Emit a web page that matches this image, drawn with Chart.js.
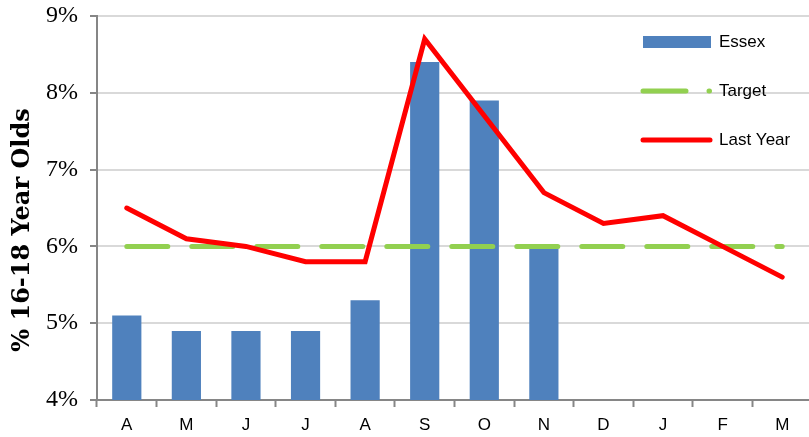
<!DOCTYPE html>
<html>
<head>
<meta charset="utf-8">
<script src="https://cdn.jsdelivr.net/npm/chart.js@4"></script>
<style>
  html, body { margin: 0; padding: 0; background: #fff; overflow: hidden; }
</style>
</head>
<body>
<canvas id="chart" width="812" height="437"></canvas>
<script>
const months = ["A", "M", "J", "J", "A", "S", "O", "N", "D", "J", "F", "M"];
const essex = [5.1, 4.9, 4.9, 4.9, 5.3, 8.4, 7.9, 6.0, null, null, null, null];
const target = [6, 6, 6, 6, 6, 6, 6, 6, 6, 6, 6, 6];
const lastYear = [6.5, 6.1, 6.0, 5.8, 5.8, 8.7, 7.7, 6.7, 6.3, 6.4, 6.0, 5.6];
const yTicks = [4, 5, 6, 7, 8, 9];

const AXIS = "#868686";

// legend + rotated axis title drawn by hand so they sit where the original has them
const extras = {
  id: "extras",
  afterDraw(chart) {
    const ctx = chart.ctx;
    const ds = chart.data.datasets;
    ctx.save();

    // axis title
    ctx.translate(23, 230);
    ctx.rotate(-Math.PI / 2);
    ctx.font = "bold 24px 'DejaVu Serif'";
    ctx.fillStyle = "#000";
    ctx.textAlign = "center";
    ctx.textBaseline = "middle";
    ctx.fillText("% 16-18 Year Olds", 0, 0);
    ctx.setTransform(1, 0, 0, 1, 0, 0);

    // legend
    ctx.font = "17px 'Liberation Sans'";
    ctx.textAlign = "left";
    ctx.textBaseline = "middle";

    ctx.fillStyle = ds[0].backgroundColor;
    ctx.fillRect(643, 36, 68, 12);
    ctx.fillStyle = "#000";
    ctx.fillText(ds[0].label, 719, 42);

    ctx.strokeStyle = ds[1].borderColor;
    ctx.lineWidth = 5;
    ctx.lineCap = "round";
    ctx.beginPath();
    ctx.moveTo(643, 91); ctx.lineTo(686, 91);
    ctx.moveTo(709, 91); ctx.lineTo(709.5, 91);
    ctx.stroke();
    ctx.fillText(ds[1].label, 719, 91);

    ctx.strokeStyle = ds[2].borderColor;
    ctx.beginPath();
    ctx.moveTo(643, 140); ctx.lineTo(710, 140);
    ctx.stroke();
    ctx.fillText(ds[2].label, 719, 140);

    ctx.restore();
  }
};

new Chart(document.getElementById("chart"), {
  data: {
    labels: months,
    datasets: [
      {
        type: "bar",
        label: "Essex",
        data: essex,
        backgroundColor: "#4F81BD",
        barPercentage: 0.49,
        categoryPercentage: 1,
        order: 3
      },
      {
        type: "line",
        label: "Target",
        data: target,
        borderColor: "#92D050",
        borderWidth: 5,
        borderDash: [41, 24],
        borderCapStyle: "round",
        pointRadius: 0,
        tension: 0,
        order: 2
      },
      {
        type: "line",
        label: "Last Year",
        data: lastYear,
        borderColor: "#FF0000",
        borderWidth: 5,
        borderCapStyle: "round",
        borderJoinStyle: "miter",
        pointRadius: 0,
        tension: 0,
        order: 1
      }
    ]
  },
  options: {
    responsive: false,
    animation: false,
    layout: { padding: { top: 16, left: 0, right: 0, bottom: 0 } },
    plugins: {
      legend: { display: false },
      tooltip: { enabled: false }
    },
    scales: {
      x: {
        offset: true,
        border: { color: AXIS, width: 2 },
        grid: {
          offset: true,
          drawOnChartArea: false,
          tickLength: 7,
          tickColor: AXIS,
          tickWidth: 2
        },
        ticks: {
          color: "#000",
          padding: 8,
          font: { family: "'Liberation Sans'", size: 17 }
        },
        afterFit(s) { s.height = 37; }
      },
      y: {
        min: 4,
        max: 9,
        border: { color: AXIS, width: 2 },
        grid: {
          color: "#D9D9D9",
          lineWidth: 2,
          tickLength: 7,
          tickColor: AXIS,
          tickWidth: 2
        },
        afterBuildTicks(s) { s.ticks = yTicks.map(v => ({ value: v })); },
        ticks: {
          color: "#000",
          padding: 12,
          font: { family: "'Liberation Serif'", size: 24 },
          callback: v => v + "%"
        },
        afterFit(s) {
          s.width = 97;
          s.paddingTop = 0;
          s.paddingBottom = 0;
        }
      }
    }
  },
  plugins: [extras]
});
</script>
</body>
</html>
